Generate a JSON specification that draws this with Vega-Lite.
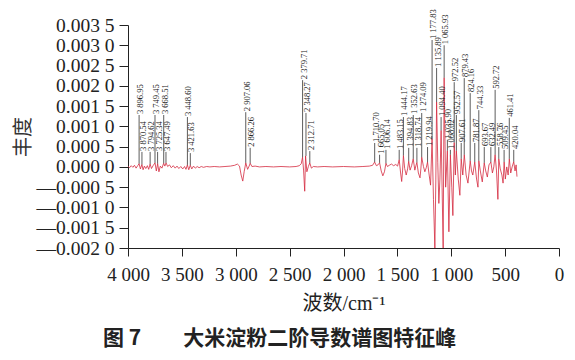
{
  "$schema": "https://vega.github.io/schema/vega-lite/v6.json",
  "width": 431,
  "height": 223,
  "autosize": {"type": "none"},
  "padding": {"left": 128, "top": 25, "right": 16, "bottom": 112},
  "background": "white",
  "config": {
    "view": {"stroke": null},
    "axis": {"labelFont": "Liberation Serif, DejaVu Serif, serif", "titleFont": "Liberation Serif, Noto Sans CJK SC, serif"},
    "text": {"font": "Liberation Serif, DejaVu Serif, serif"}
  },
  "title": {
    "text": "图 7　　大米淀粉二阶导数谱图特征峰",
    "orient": "bottom",
    "anchor": "start",
    "frame": "group",
    "dx": -25,
    "offset": 15,
    "font": "Noto Sans CJK SC",
    "fontSize": 21,
    "fontWeight": "bold",
    "color": "#222"
  },
  "datasets": {
    "spec": [
      {"wn": 4000, "v": 0.00002}, {"wn": 3985, "v": -0.00002}, {"wn": 3970, "v": 0.00003}, {"wn": 3955, "v": -0.00001},
      {"wn": 3940, "v": 0.00004}, {"wn": 3925, "v": -0.00003}, {"wn": 3910, "v": 0.00003}, {"wn": 3897, "v": 0.00008},
      {"wn": 3885, "v": -0.00005}, {"wn": 3871, "v": 0.00006}, {"wn": 3860, "v": -0.00007}, {"wn": 3848, "v": 0.00002},
      {"wn": 3835, "v": -0.00004}, {"wn": 3820, "v": 0.00003}, {"wn": 3808, "v": -0.00006}, {"wn": 3795, "v": 0.00007},
      {"wn": 3782, "v": -0.00004}, {"wn": 3765, "v": 0.00004}, {"wn": 3749, "v": 0.0001}, {"wn": 3737, "v": -0.0001},
      {"wn": 3725, "v": 0.00008}, {"wn": 3713, "v": -0.00012}, {"wn": 3700, "v": 0.00002}, {"wn": 3685, "v": -0.00003},
      {"wn": 3669, "v": 0.00009}, {"wn": 3658, "v": 0.00002}, {"wn": 3647, "v": 0.0001}, {"wn": 3632, "v": 0.00001},
      {"wn": 3615, "v": 0.00005}, {"wn": 3598, "v": -0.00002}, {"wn": 3580, "v": 0.00003}, {"wn": 3562, "v": -0.00003},
      {"wn": 3545, "v": 0.00002}, {"wn": 3528, "v": -0.00004}, {"wn": 3510, "v": 0.00001}, {"wn": 3492, "v": -0.00005},
      {"wn": 3475, "v": 0.00001}, {"wn": 3462, "v": -0.00006}, {"wn": 3449, "v": 0.00005}, {"wn": 3436, "v": -0.00007},
      {"wn": 3422, "v": 0.00004}, {"wn": 3408, "v": -0.00005}, {"wn": 3392, "v": 0.00002}, {"wn": 3375, "v": -0.00003},
      {"wn": 3358, "v": 0.00001}, {"wn": 3340, "v": -0.00002}, {"wn": 3320, "v": 0.00001}, {"wn": 3300, "v": -0.00001},
      {"wn": 3270, "v": 0.00001}, {"wn": 3240, "v": 0.0}, {"wn": 3200, "v": 0.00001}, {"wn": 3150, "v": 0.0},
      {"wn": 3100, "v": 0.00001}, {"wn": 3050, "v": 0.00002}, {"wn": 3010, "v": 0.00004}, {"wn": 2985, "v": 0.00007},
      {"wn": 2965, "v": 0.00002}, {"wn": 2950, "v": -0.0002}, {"wn": 2935, "v": -0.00035}, {"wn": 2922, "v": -0.00012},
      {"wn": 2907, "v": 0.0001}, {"wn": 2890, "v": -0.00006}, {"wn": 2876, "v": 0.00002}, {"wn": 2866, "v": 0.00009},
      {"wn": 2850, "v": 0.00001}, {"wn": 2820, "v": 0.00002}, {"wn": 2780, "v": 0.0}, {"wn": 2720, "v": 0.00001},
      {"wn": 2650, "v": 0.0}, {"wn": 2580, "v": 0.00001}, {"wn": 2500, "v": 0.0}, {"wn": 2440, "v": 0.00001},
      {"wn": 2410, "v": 0.00003}, {"wn": 2392, "v": 0.00008}, {"wn": 2380, "v": 0.00024}, {"wn": 2370, "v": -0.0001},
      {"wn": 2360, "v": -0.0006}, {"wn": 2352, "v": 0.00027}, {"wn": 2340, "v": -0.00012}, {"wn": 2326, "v": 0.00001},
      {"wn": 2313, "v": 0.0001}, {"wn": 2298, "v": -0.00003}, {"wn": 2280, "v": 0.00001}, {"wn": 2240, "v": 0.0},
      {"wn": 2180, "v": 0.00001}, {"wn": 2100, "v": 0.0}, {"wn": 2000, "v": 0.00001}, {"wn": 1900, "v": 0.0},
      {"wn": 1820, "v": 0.00001}, {"wn": 1760, "v": 0.00002}, {"wn": 1730, "v": 0.00004}, {"wn": 1711, "v": 0.00012},
      {"wn": 1695, "v": 0.00003}, {"wn": 1680, "v": 0.00005}, {"wn": 1665, "v": 0.0001}, {"wn": 1650, "v": -0.0001},
      {"wn": 1635, "v": -0.00022}, {"wn": 1620, "v": -0.00012}, {"wn": 1606, "v": 0.00009}, {"wn": 1592, "v": 0.00001},
      {"wn": 1575, "v": 0.00004}, {"wn": 1555, "v": 0.00007}, {"wn": 1535, "v": 0.00003}, {"wn": 1515, "v": 0.00006},
      {"wn": 1498, "v": 0.00002}, {"wn": 1483, "v": 0.00018}, {"wn": 1470, "v": -0.00015}, {"wn": 1460, "v": -0.00036},
      {"wn": 1452, "v": -0.0001}, {"wn": 1444, "v": 0.00028}, {"wn": 1432, "v": -0.00004}, {"wn": 1418, "v": -0.0002},
      {"wn": 1405, "v": -0.00005}, {"wn": 1395, "v": 0.00014}, {"wn": 1382, "v": -0.00008}, {"wn": 1368, "v": 0.00003},
      {"wn": 1353, "v": 0.0002}, {"wn": 1338, "v": -0.00008}, {"wn": 1328, "v": 0.00003}, {"wn": 1319, "v": 0.00011},
      {"wn": 1305, "v": -0.00015}, {"wn": 1290, "v": -0.00027}, {"wn": 1282, "v": -0.00005}, {"wn": 1274, "v": 0.00024},
      {"wn": 1258, "v": 0.00001}, {"wn": 1245, "v": -0.00012}, {"wn": 1232, "v": -0.00002}, {"wn": 1220, "v": 0.00012},
      {"wn": 1205, "v": -0.0002}, {"wn": 1192, "v": -0.00045}, {"wn": 1178, "v": 0.0007}, {"wn": 1165, "v": -0.0008},
      {"wn": 1152, "v": -0.002}, {"wn": 1143, "v": -0.0003}, {"wn": 1136, "v": 0.0016}, {"wn": 1125, "v": 0.0001},
      {"wn": 1115, "v": -0.0009}, {"wn": 1105, "v": -0.0003}, {"wn": 1094, "v": 0.0009}, {"wn": 1085, "v": -0.0005},
      {"wn": 1075, "v": -0.002}, {"wn": 1066, "v": 0.0022}, {"wn": 1052, "v": -0.0005}, {"wn": 1036, "v": 0.0004},
      {"wn": 1022, "v": -0.0016}, {"wn": 1008, "v": 0.0003}, {"wn": 995, "v": -0.0005}, {"wn": 985, "v": -0.0012},
      {"wn": 972.5, "v": 0.0006}, {"wn": 962, "v": -0.0002}, {"wn": 952.6, "v": 0.0004}, {"wn": 935, "v": -0.0003},
      {"wn": 920, "v": -0.0007}, {"wn": 907.6, "v": 0.0002}, {"wn": 893, "v": -0.0002}, {"wn": 879, "v": 0.0003},
      {"wn": 862, "v": -0.0002}, {"wn": 845, "v": -0.0004}, {"wn": 824, "v": 0.00015}, {"wn": 812, "v": -0.0001},
      {"wn": 800, "v": -0.0002}, {"wn": 782, "v": 0.00012}, {"wn": 765, "v": -0.0003}, {"wn": 752, "v": -0.0005},
      {"wn": 744, "v": 0.00015}, {"wn": 730, "v": -0.0001}, {"wn": 712, "v": -0.00037}, {"wn": 694, "v": 0.0001},
      {"wn": 680, "v": -0.0001}, {"wn": 665, "v": -0.00025}, {"wn": 650, "v": 0.00005}, {"wn": 632, "v": 0.00012},
      {"wn": 618, "v": -0.00015}, {"wn": 605, "v": 0.0}, {"wn": 593, "v": 0.0003}, {"wn": 580, "v": -0.0001},
      {"wn": 567, "v": -0.0008}, {"wn": 559, "v": 0.0002}, {"wn": 545, "v": -0.00005}, {"wn": 530, "v": -0.0002},
      {"wn": 519, "v": -0.0004}, {"wn": 509, "v": 0.00012}, {"wn": 498, "v": -0.0003}, {"wn": 485, "v": 0.0},
      {"wn": 472, "v": -0.0002}, {"wn": 461, "v": 0.0002}, {"wn": 448, "v": -0.00015}, {"wn": 435, "v": 0.0},
      {"wn": 420, "v": 0.00013}, {"wn": 408, "v": -0.0001}, {"wn": 398, "v": 0.00005}, {"wn": 390, "v": -0.00024}
    ],
    "peaks": [
      {"wn": 3896.95, "lab": "3 896.95", "base": 0.00008, "top": 0.00128},
      {"wn": 3870.54, "lab": "3 870.54", "base": 0.00006, "top": 0.00037},
      {"wn": 3794.62, "lab": "3 794.62", "base": 0.00007, "top": 0.00037},
      {"wn": 3749.45, "lab": "3 749.45", "base": 0.0001, "top": 0.00128},
      {"wn": 3725.34, "lab": "3 725.34", "base": 0.00008, "top": 0.00037},
      {"wn": 3668.51, "lab": "3 668.51", "base": 0.00009, "top": 0.00128},
      {"wn": 3647.49, "lab": "3 647.49", "base": 0.0001, "top": 0.00037},
      {"wn": 3448.60, "lab": "3 448.60", "base": 0.00005, "top": 0.00123},
      {"wn": 3421.63, "lab": "3 421.63", "base": 0.00004, "top": 0.00034},
      {"wn": 2907.06, "lab": "2 907.06", "base": 0.0001, "top": 0.00135},
      {"wn": 2866.26, "lab": "2 866.26", "base": 0.00009, "top": 0.00047},
      {"wn": 2379.71, "lab": "2 379.71", "base": 0.00024, "top": 0.00214},
      {"wn": 2348.27, "lab": "2 348.27", "base": 0.00027, "top": 0.00133},
      {"wn": 2312.71, "lab": "2 312.71", "base": 0.0001, "top": 0.00039},
      {"wn": 1710.70, "lab": "1 710.70", "base": 0.00012, "top": 0.00059},
      {"wn": 1665.05, "lab": "1 665.05", "base": 0.0001, "top": 0.0003},
      {"wn": 1606.14, "lab": "1 606.14", "base": 0.00009, "top": 0.00042},
      {"wn": 1483.15, "lab": "1 483.15", "base": 0.00018, "top": 0.00042},
      {"wn": 1444.17, "lab": "1 444.17", "base": 0.00028, "top": 0.00123},
      {"wn": 1394.83, "lab": "1 394.83", "base": 0.00014, "top": 0.00047},
      {"wn": 1352.63, "lab": "1 352.63", "base": 0.0002, "top": 0.00128},
      {"wn": 1318.74, "lab": "1 318.74", "base": 0.00011, "top": 0.00047},
      {"wn": 1274.09, "lab": "1 274.09", "base": 0.00024, "top": 0.00133},
      {"wn": 1219.94, "lab": "1 219.94", "base": 0.00012, "top": 0.00049},
      {"wn": 1177.83, "lab": "1 177.83", "base": 0.0007, "top": 0.00313},
      {"wn": 1135.89, "lab": "1 135.89", "base": 0.0016, "top": 0.00244},
      {"wn": 1094.40, "lab": "1 094.40", "base": 0.0009, "top": 0.00123},
      {"wn": 1065.93, "lab": "1 065.93", "base": 0.0022, "top": 0.003},
      {"wn": 1035.90, "lab": "1 035.90", "base": 0.0004, "top": 0.00067},
      {"wn": 1008.02, "lab": "1 008.02", "base": 0.0003, "top": 0.00042},
      {"wn": 972.52, "lab": "972.52", "base": 0.0006, "top": 0.00209},
      {"wn": 952.57, "lab": "952.57", "base": 0.0004, "top": 0.00128},
      {"wn": 907.61, "lab": "907.61", "base": 0.0002, "top": 0.00059},
      {"wn": 879.43, "lab": "879.43", "base": 0.0003, "top": 0.00219},
      {"wn": 824.16, "lab": "824.16", "base": 0.00015, "top": 0.00182},
      {"wn": 781.87, "lab": "781.87", "base": 0.00012, "top": 0.00059},
      {"wn": 744.33, "lab": "744.33", "base": 0.00015, "top": 0.0014},
      {"wn": 693.67, "lab": "693.67", "base": 0.0001, "top": 0.00049},
      {"wn": 632.49, "lab": "632.49", "base": 0.00012, "top": 0.00049},
      {"wn": 592.72, "lab": "592.72", "base": 0.0003, "top": 0.0019},
      {"wn": 558.76, "lab": "558.76", "base": 0.0002, "top": 0.00049},
      {"wn": 509.45, "lab": "509.45", "base": 0.00012, "top": 0.00042},
      {"wn": 461.41, "lab": "461.41", "base": 0.0002, "top": 0.00121},
      {"wn": 420.04, "lab": "420.04", "base": 0.00013, "top": 0.00042}
    ]
  },
  "layer": [
    {
      "data": {"name": "spec"},
      "mark": {"type": "line", "color": "#d42a3f", "strokeWidth": 0.8, "clip": true},
      "encoding": {
        "x": {
          "field": "wn", "type": "quantitative",
          "scale": {"domain": [4000, 0], "nice": false, "zero": false},
          "axis": {
            "values": [4000, 3500, 3000, 2500, 2000, 1500, 1000, 500, 0],
            "tickCount": 20,
            "labelExpr": "replace(format(datum.value, ','), ',', ' ')",
            "title": "波数/cm⁻¹",
            "titleFont": "Liberation Serif, Noto Sans CJK SC, serif",
            "titleFontSize": 20,
            "titleFontWeight": "normal",
            "titleColor": "#222",
            "titlePadding": 9,
            "labelFont": "Liberation Serif, DejaVu Serif, serif",
            "labelFontSize": 19,
            "labelColor": "#222",
            "labelPadding": 9,
            "labelFlush": false,
            "labelOverlap": false,
            "tickSize": 8,
            "tickColor": "#222",
            "domainColor": "#222",
            "grid": false
          }
        },
        "y": {
          "field": "v", "type": "quantitative",
          "scale": {"domain": [-0.002, 0.0035], "nice": false, "zero": false},
          "axis": {
            "values": [-0.002, -0.0015, -0.001, -0.0005, 0, 0.0005, 0.001, 0.0015, 0.002, 0.0025, 0.003, 0.0035],
            "tickCount": 30,
            "labelExpr": "(datum.value < -0.0000001 ? '—' : '') + substring(format(abs(datum.value), '.4f'), 0, 5) + ' ' + substring(format(abs(datum.value), '.4f'), 5, 6)",
            "title": "丰度",
            "titleFont": "Noto Sans CJK SC",
            "titleFontSize": 20,
            "titleFontWeight": "normal",
            "titleColor": "#333",
            "titlePadding": 3,
            "labelFont": "Liberation Serif, DejaVu Serif, serif",
            "labelFontSize": 19.5,
            "labelColor": "#222",
            "labelPadding": 5,
            "labelFlush": false,
            "labelOverlap": false,
            "tickSize": 9,
            "tickColor": "#222",
            "domainColor": "#222",
            "grid": false
          }
        }
      }
    },
    {
      "data": {"name": "peaks"},
      "mark": {"type": "rule", "color": "#333", "strokeWidth": 0.8},
      "encoding": {
        "x": {"field": "wn", "type": "quantitative"},
        "y": {"field": "base", "type": "quantitative"},
        "y2": {"field": "top"}
      }
    },
    {
      "data": {"name": "peaks"},
      "mark": {"type": "text", "angle": 270, "align": "left", "baseline": "middle", "dx": 1, "dy": 1, "font": "Liberation Serif, DejaVu Serif, serif", "fontSize": 8.5, "color": "#222"},
      "encoding": {
        "x": {"field": "wn", "type": "quantitative"},
        "y": {"field": "top", "type": "quantitative"},
        "text": {"field": "lab"}
      }
    }
  ]
}
